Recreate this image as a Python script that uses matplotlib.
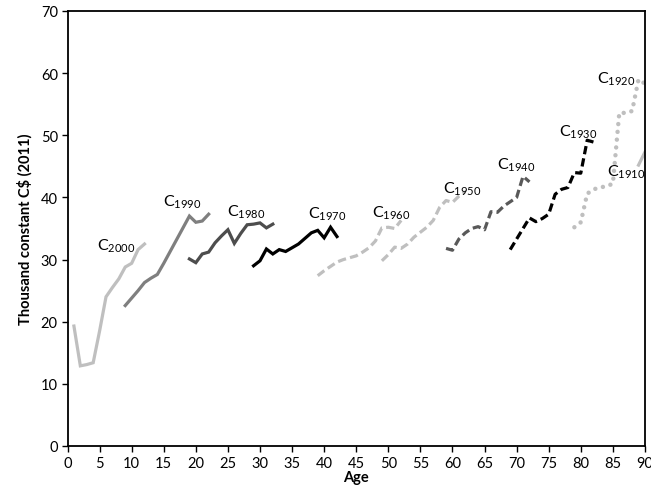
import matplotlib.pyplot as plt
import numpy as np

plt.rcParams['font.family'] = ['Lato', 'DejaVu Sans']
plt.rcParams['mathtext.fontset'] = 'custom'
plt.rcParams['mathtext.rm'] = 'Lato'

# cohort data: first age observed and yearly values (thousand constant C$ 2011)
c2000_start = 1
c2000 = [19.3, 12.9, 13.1, 13.4, 18.5, 24.0, 25.5, 26.9, 28.8, 29.4, 31.6, 32.5]
c1990_start = 9
c1990 = [22.6, 23.8, 25.0, 26.3, 27.0, 27.6, 29.4, 31.3, 33.2, 35.1, 37.0, 36.0, 36.2, 37.3]
c1980_start = 19
c1980 = [30.1, 29.5, 30.9, 31.2, 32.7, 33.8, 34.8, 32.6, 34.2, 35.6, 35.7, 35.9, 35.1, 35.7]
c1970_start = 29
c1970 = [29.0, 29.8, 31.7, 30.9, 31.6, 31.3, 31.9, 32.5, 33.4, 34.3, 34.7, 33.5, 35.2, 33.7]
c1960_start = 39
c1960 = [27.4, 28.2, 28.9, 29.6, 30.0, 30.3, 30.6, 31.2, 31.9, 33.0, 35.1, 35.2, 35.0, 36.3]
c1950_start = 49
c1950 = [29.8, 30.8, 32.0, 31.8, 32.5, 33.6, 34.4, 35.2, 36.3, 38.4, 39.5, 39.2, 40.2, 40.9]
c1940_start = 59
c1940 = [31.8, 31.5, 33.3, 34.3, 35.0, 35.3, 34.8, 37.7, 37.6, 38.6, 39.3, 40.0, 43.4, 42.5]
c1930_start = 69
c1930 = [31.6, 33.3, 35.0, 36.7, 36.1, 36.6, 37.3, 40.5, 41.3, 41.6, 44.0, 43.9, 49.2, 48.9]
c1920_start = 79
c1920 = [35.2, 36.0, 40.6, 41.3, 41.6, 41.8, 42.2, 53.6, 53.6, 53.9, 59.0, 58.3]
c1910_start = 89
c1910 = [45.2, 47.3]

names = ['2000', '1990', '1980', '1970', '1960', '1950', '1940', '1930', '1920', '1910']
label_x = [4.6, 14.9, 24.8, 37.5, 47.4, 58.5, 67.0, 76.6, 82.5, 84.1]
label_y = [31.7, 38.7, 37.1, 36.8, 36.9, 40.9, 44.7, 50.0, 58.6, 43.5]

series = [
    (c2000_start, c2000, '#bfbfbf', 'solid'),
    (c1990_start, c1990, '#7f7f7f', 'solid'),
    (c1980_start, c1980, '#4d4d4d', 'solid'),
    (c1970_start, c1970, '#000000', 'solid'),
    (c1960_start, c1960, '#bfbfbf', 'dash'),
    (c1950_start, c1950, '#bfbfbf', 'dash'),
    (c1940_start, c1940, '#595959', 'dash'),
    (c1930_start, c1930, '#000000', 'dash'),
    (c1920_start, c1920, '#bfbfbf', 'dot'),
    (c1910_start, c1910, '#bfbfbf', 'solid'),
]

fig = plt.figure(figsize=(6.51, 4.89), dpi=100)
ax = fig.add_axes([0.1037, 0.0859, 0.887, 0.8896])

for start, vals, col, style in series:
    ages = np.arange(start, start + len(vals))
    if style == 'solid':
        ax.plot(ages, vals, color=col, lw=2.3, solid_joinstyle='miter')
    elif style == 'dash':
        ax.plot(ages, vals, color=col, lw=2.3, dashes=(2.6, 1.3))
    else:
        ax.plot(ages, vals, color=col, lw=3.2, dashes=(0.01, 1.75),
                dash_capstyle='round')

for nm, lx, ly in zip(names, label_x, label_y):
    ax.text(lx, ly, r'C$_{\mathregular{' + nm + '}}$', fontsize=11.5,
            ha='left', va='baseline')

ax.set_xlim(0, 90)
ax.set_ylim(0, 70)
ax.set_xticks(np.arange(0, 91, 5))
ax.set_yticks(np.arange(0, 71, 10))
ax.tick_params(direction='out', length=4, width=1, labelsize=10.5, pad=3)
for sp in ax.spines.values():
    sp.set_linewidth(1.3)
    sp.set_color('black')

ax.set_xlabel('Age', fontsize=10.5, fontweight='bold', labelpad=0)
ax.set_ylabel('Thousand constant C$ (2011)', fontsize=10.5, fontweight='bold', labelpad=6)

fig.savefig('out.png', dpi=100)
